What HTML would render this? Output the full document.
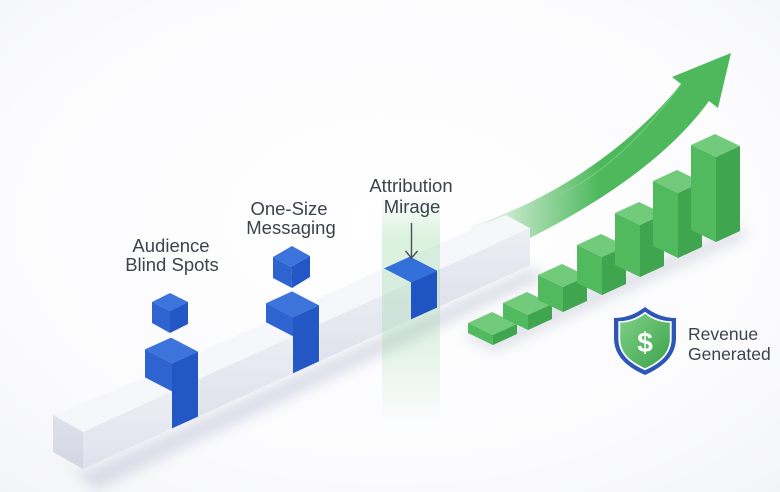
<!DOCTYPE html>
<html>
<head>
<meta charset="utf-8">
<style>
  html,body{margin:0;padding:0;background:#ffffff;}
  body{width:780px;height:492px;overflow:hidden;}
  svg{display:block;}
  .lbl{font-family:"Liberation Sans",Arial,sans-serif;font-size:18.5px;fill:#3d424c;}
  .rev{font-family:"Liberation Sans",Arial,sans-serif;font-size:17.5px;fill:#3d424c;}
</style>
</head>
<body>
<svg width="780" height="492" viewBox="0 0 780 492" xmlns="http://www.w3.org/2000/svg">
  <defs>
    <radialGradient id="bg" cx="50%" cy="45%" r="75%">
      <stop offset="0" stop-color="#ffffff"/>
      <stop offset="0.7" stop-color="#fbfbfd"/>
      <stop offset="1" stop-color="#f3f4f7"/>
    </radialGradient>
    <filter id="blur6" x="-20%" y="-50%" width="140%" height="200%">
      <feGaussianBlur stdDeviation="6"/>
    </filter>
    <filter id="blur3" x="-20%" y="-50%" width="140%" height="200%">
      <feGaussianBlur stdDeviation="3"/>
    </filter>
    <linearGradient id="beamFront" x1="0" y1="0" x2="0" y2="1">
      <stop offset="0" stop-color="#eceef5"/>
      <stop offset="1" stop-color="#dfe2ec"/>
    </linearGradient>
    <linearGradient id="beamEnd" x1="0" y1="0" x2="0" y2="1">
      <stop offset="0" stop-color="#dfe1eb"/>
      <stop offset="1" stop-color="#d3d6e3"/>
    </linearGradient>
    <linearGradient id="band" x1="0" y1="0" x2="0" y2="1">
      <stop offset="0" stop-color="#7fd08a" stop-opacity="0"/>
      <stop offset="0.2" stop-color="#7fd08a" stop-opacity="0.28"/>
      <stop offset="0.65" stop-color="#7fd08a" stop-opacity="0.22"/>
      <stop offset="1" stop-color="#7fd08a" stop-opacity="0"/>
    </linearGradient>
    <linearGradient id="arrowG" gradientUnits="userSpaceOnUse" x1="480" y1="0" x2="600" y2="0">
      <stop offset="0" stop-color="#5cc16a" stop-opacity="0.08"/>
      <stop offset="0.35" stop-color="#55bd64" stop-opacity="0.45"/>
      <stop offset="1" stop-color="#4db85c" stop-opacity="1"/>
    </linearGradient>
    <linearGradient id="shieldG" x1="0" y1="0" x2="1" y2="1">
      <stop offset="0" stop-color="#7fd186"/>
      <stop offset="1" stop-color="#3da24c"/>
    </linearGradient>
  </defs>

  <rect x="0" y="0" width="780" height="492" fill="url(#bg)"/>

  <!-- beam shadow -->
  <polygon points="60,458 83,472 530,268 548,276 96,490" fill="#8e97b8" opacity="0.28" filter="url(#blur6)"/>
  <!-- bars shadow -->
  <polygon points="462,336 495,352 745,238 742,226" fill="#8e9ab0" opacity="0.25" filter="url(#blur6)"/>

  <!-- arrow (behind beam) -->
  <path d="M 470 226 C 545 204 628 150 681 84 L 672 77 L 731 53 L 718 108 L 709 101 C 675 148 610 203 490 257 Z" fill="url(#arrowG)"/>
  <path d="M 560 194 C 600 176 640 140 681 84" fill="none" stroke="#8fdc98" stroke-width="1.2" opacity="0.5"/>

  <!-- Beam segment 1 -->
  <polygon points="53,415 83,432 172,391.4 145,377.4" fill="#f6f7fb"/>
  <polygon points="83,432 172,391.4 172,428.4 83,469" fill="url(#beamFront)"/>
  <polygon points="53,415 83,432 83,469 53,452" fill="url(#beamEnd)"/>
  <!-- Beam segment 2 -->
  <polygon points="171,365.6 198,379.6 293,336.2 266,322.2" fill="#f6f7fb"/>
  <polygon points="198,379.6 293,336.2 293,373.2 198,416.6" fill="url(#beamFront)"/>
  <!-- Beam segment 3 -->
  <polygon points="292,310.4 319,324.4 411,282.4 384,268.4" fill="#f6f7fb"/>
  <polygon points="319,324.4 411,282.4 411,319.4 319,361.4" fill="url(#beamFront)"/>
  <!-- Beam segment 4 -->
  <polygon points="410,256.6 437,270.6 530,228.2 506,215" fill="#f6f7fb"/>
  <polygon points="437,270.6 530,228.2 530,265.2 437,307.6" fill="url(#beamFront)"/>
  <line x1="319" y1="324.4" x2="319" y2="361.4" stroke="#f4f5fa" stroke-width="1.5"/>
  <line x1="437" y1="270.6" x2="437" y2="307.6" stroke="#f4f5fa" stroke-width="1.5"/>
  <line x1="198" y1="379.6" x2="198" y2="416.6" stroke="#f4f5fa" stroke-width="1.5"/>

  <!-- green highlight band -->
  <rect x="382" y="192" width="58" height="232" fill="url(#band)"/>

  <!-- Column 1 -->
  <polygon points="145,349.4 172,363.4 198,351.6 171,337.6" fill="#3d74dc"/>
  <polygon points="145,349.4 172,363.4 172,391.4 145,377.4" fill="#2e63d0"/>
  <polygon points="172,363.4 198,351.6 198,416.6 172,428.4" fill="#2357c6"/>
  <!-- Column 2 -->
  <polygon points="266,303.2 293,317.2 319,305.4 292,291.4" fill="#3d74dc"/>
  <polygon points="266,303.2 293,317.2 293,336.2 266,322.2" fill="#2e63d0"/>
  <polygon points="293,317.2 319,305.4 319,361.4 293,373.2" fill="#2357c6"/>
  <!-- Column 3 -->
  <polygon points="384,268.4 411,282.4 437,270.6 410,256.6" fill="#3370da"/>
  <polygon points="411,282.4 437,270.6 437,307.6 411,319.4" fill="#2054c3"/>

  <!-- Cube 1 -->
  <polygon points="170,293 152,302 170,311 188,302" fill="#3d74dc"/>
  <polygon points="152,302 170,311 170,333 152,323" fill="#2e63d0"/>
  <polygon points="170,311 188,302 188,324 170,333" fill="#2357c6"/>
  <!-- Cube 2 -->
  <polygon points="292,246 273,257 291,267 310,256" fill="#3d74dc"/>
  <polygon points="273,257 291,267 292,288 273,278" fill="#2e63d0"/>
  <polygon points="291,267 310,256 310,277 292,288" fill="#2357c6"/>

  <!-- Green bars -->
  <g>
    <polygon points="468,323 492,312 517,324 493,335" fill="#72cb7b"/>
    <polygon points="468,323 493,335 493,345 468,333" fill="#51ba5e"/>
    <polygon points="493,335 517,324 517,334 493,345" fill="#3fa54f"/>

    <polygon points="503,303 527,292 552,304 528,315" fill="#72cb7b"/>
    <polygon points="503,303 528,315 528,330 503,318" fill="#51ba5e"/>
    <polygon points="528,315 552,304 552,319 528,330" fill="#3fa54f"/>

    <polygon points="538,275 562,264 587,276 563,287" fill="#72cb7b"/>
    <polygon points="538,275 563,287 563,312 538,300" fill="#51ba5e"/>
    <polygon points="563,287 587,276 587,301 563,312" fill="#3fa54f"/>

    <polygon points="577,245 601,234 626,246 602,257" fill="#72cb7b"/>
    <polygon points="577,245 602,257 602,295 577,283" fill="#51ba5e"/>
    <polygon points="602,257 626,246 626,284 602,295" fill="#3fa54f"/>

    <polygon points="615,213 639,202 664,214 640,225" fill="#72cb7b"/>
    <polygon points="615,213 640,225 640,277 615,265" fill="#51ba5e"/>
    <polygon points="640,225 664,214 664,266 640,277" fill="#3fa54f"/>

    <polygon points="653,181 677,170 702,182 678,193" fill="#72cb7b"/>
    <polygon points="653,181 678,193 678,258 653,246" fill="#51ba5e"/>
    <polygon points="678,193 702,182 702,247 678,258" fill="#3fa54f"/>

    <polygon points="691,145 715,134 740,146 716,157" fill="#72cb7b"/>
    <polygon points="691,145 716,157 716,242 691,230" fill="#51ba5e"/>
    <polygon points="716,157 740,146 740,231 716,242" fill="#3fa54f"/>
  </g>

  <!-- Labels -->
  <text class="lbl" x="171" y="252" text-anchor="middle">Audience</text>
  <text class="lbl" x="172" y="271" text-anchor="middle">Blind Spots</text>
  <text class="lbl" x="289" y="215" text-anchor="middle">One-Size</text>
  <text class="lbl" x="291" y="234" text-anchor="middle">Messaging</text>
  <text class="lbl" x="411" y="192" text-anchor="middle">Attribution</text>
  <text class="lbl" x="412" y="213" text-anchor="middle">Mirage</text>

  <!-- pointer arrow -->
  <line x1="411.5" y1="223" x2="411.5" y2="258" stroke="#4a4f5a" stroke-width="1.4"/>
  <polyline points="405.5,251 411.5,258 417.5,251" fill="none" stroke="#4a4f5a" stroke-width="1.4" stroke-linejoin="round"/>

  <!-- Shield -->
  <path d="M645,307 C636,314 626,318 614,318 L614,338 C614,356 627,367 645,375 C663,367 676,356 676,338 L676,318 C664,318 654,314 645,307 Z" fill="#2c57b9"/>
  <path d="M645,307 C636,314 626,318 614,318 L614,338 C614,356 627,367 645,375 C663,367 676,356 676,338 L676,318 C664,318 654,314 645,307 Z" fill="#ffffff" transform="translate(645 341) scale(0.86) translate(-645 -341)"/>
  <path d="M645,307 C636,314 626,318 614,318 L614,338 C614,356 627,367 645,375 C663,367 676,356 676,338 L676,318 C664,318 654,314 645,307 Z" fill="url(#shieldG)" transform="translate(645 341) scale(0.8) translate(-645 -341)"/>
  <text x="645" y="352" text-anchor="middle" font-family="Liberation Sans, Arial, sans-serif" font-size="28" font-weight="bold" fill="#ffffff">$</text>

  <text class="rev" x="688" y="340">Revenue</text>
  <text class="rev" x="688" y="360">Generated</text>
</svg>
</body>
</html>
